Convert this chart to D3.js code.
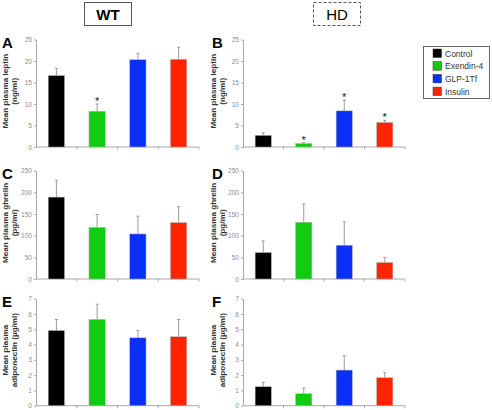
<!DOCTYPE html>
<html><head><meta charset="utf-8">
<script src="https://cdn.jsdelivr.net/npm/d3@7"></script>
<style>body{margin:0;background:#fff}svg{display:block}</style>
</head><body>
<script>
const categories = ["Control", "Exendin-4", "GLP-1Tf", "Insulin"];
const colors = ["#000000", "#11cc11", "#0a30f5", "#ff2400"];

const leptinWT = [16.6, 8.3, 20.3, 20.4];
const leptinWTErr = [1.7, 1.7, 1.5, 2.8];
const leptinWTSig = [false, true, false, false];
const leptinHD = [2.7, 0.8, 8.4, 5.7];
const leptinHDErr = [0.6, 0.2, 2.5, 0.5];
const leptinHDSig = [false, true, true, true];
const leptinTicks = [0, 5, 10, 15, 20, 25];

const ghrelinWT = [189, 119, 104, 130];
const ghrelinWTErr = [39, 30, 41, 37];
const ghrelinHD = [61, 131, 78, 38];
const ghrelinHDErr = [27, 42, 54, 12];
const ghrelinTicks = [0, 50, 100, 150, 200, 250];

const adipoWT = [4.92, 5.64, 4.44, 4.51];
const adipoWTErr = [0.72, 1.0, 0.48, 1.13];
const adipoHD = [1.24, 0.78, 2.33, 1.83];
const adipoHDErr = [0.28, 0.37, 0.94, 0.35];
const adipoTicks = [0, 1, 2, 3, 4, 5, 6, 7];

const noSig = [false, false, false, false];
const panels = [
  {letter:"A", vals:leptinWT, err:leptinWTErr, sig:leptinWTSig, ticks:leptinTicks, label:["Mean plasma leptin","(ng/ml)"], col:0, row:0},
  {letter:"B", vals:leptinHD, err:leptinHDErr, sig:leptinHDSig, ticks:leptinTicks, label:["Mean plasma leptin","(ng/ml)"], col:1, row:0},
  {letter:"C", vals:ghrelinWT, err:ghrelinWTErr, sig:noSig, ticks:ghrelinTicks, label:["Mean plasma ghrelin","(pg/ml)"], col:0, row:1},
  {letter:"D", vals:ghrelinHD, err:ghrelinHDErr, sig:noSig, ticks:ghrelinTicks, label:["Mean plasma ghrelin","(pg/ml)"], col:1, row:1},
  {letter:"E", vals:adipoWT, err:adipoWTErr, sig:noSig, ticks:adipoTicks, label:["Mean plasma","adiponectin (\u00b5g/ml)"], col:0, row:2},
  {letter:"F", vals:adipoHD, err:adipoHDErr, sig:noSig, ticks:adipoTicks, label:["Mean plasma","adiponectin (\u00b5g/ml)"], col:1, row:2}
];

const W = 492, H = 410;
const svg = d3.select("body").append("svg").attr("width", W).attr("height", H)
  .style("font-family", "Liberation Sans, Arial, sans-serif");

const colX = [[36, 199], [243, 405]];
const rowY = [[147, 39.5], [279, 170.7], [405.7, 298.7]];
const axisColor = "#a8a8a8";

panels.forEach(p => {
  const [x0, x1] = colX[p.col];
  const [y0, y1] = rowY[p.row];
  const x = d3.scaleBand().domain(categories).range([x0, x1]).paddingInner(0.6).paddingOuter(0.3);
  const y = d3.scaleLinear().domain([0, d3.max(p.ticks)]).range([y0, y1]);
  const g = svg.append("g");

  // y axis
  const ya = g.append("g").attr("transform", `translate(${x0},0)`)
    .call(d3.axisLeft(y).tickValues(p.ticks).tickFormat(d3.format("d")).tickSize(2).tickPadding(2).tickSizeOuter(0));
  ya.select(".domain").attr("stroke", axisColor);
  ya.selectAll(".tick line").attr("stroke", axisColor);
  ya.selectAll(".tick text").attr("fill", "#8c8c8c").style("font-size", "6.6px");

  // x axis
  const bounds = categories.map((c, i) => x0 + (i + 1) * (x1 - x0) / categories.length);
  g.append("line").attr("x1", x0).attr("x2", x1).attr("y1", y0).attr("y2", y0).attr("stroke", axisColor);
  g.selectAll(".xt").data(bounds).join("line").attr("x1", d => d).attr("x2", d => d)
    .attr("y1", y0).attr("y2", y0 + 2.5).attr("stroke", axisColor);

  // error bars
  const eb = g.selectAll(".eb").data(categories).join("g");
  eb.append("line")
    .attr("x1", c => x(c) + x.bandwidth() / 2).attr("x2", c => x(c) + x.bandwidth() / 2)
    .attr("y1", (c, i) => y(p.vals[i])).attr("y2", (c, i) => y(p.vals[i] + p.err[i]))
    .attr("stroke", "#9a9a9a").attr("stroke-width", 1);
  eb.append("line")
    .attr("x1", c => x(c) + x.bandwidth() / 2 - 1.5).attr("x2", c => x(c) + x.bandwidth() / 2 + 1.5)
    .attr("y1", (c, i) => y(p.vals[i] + p.err[i])).attr("y2", (c, i) => y(p.vals[i] + p.err[i]))
    .attr("stroke", "#9a9a9a").attr("stroke-width", 1);

  // bars
  g.selectAll(".bar").data(categories).join("rect")
    .attr("x", c => x(c)).attr("width", x.bandwidth())
    .attr("y", (c, i) => y(p.vals[i])).attr("height", (c, i) => y0 - y(p.vals[i]))
    .attr("fill", (c, i) => colors[i]).attr("stroke", "#b0b0b0").attr("stroke-width", 0.5);

  // significance stars
  g.selectAll(".star").data(categories.filter((c, i) => p.sig[i])).join("text")
    .attr("x", c => x(c) + x.bandwidth() / 2)
    .attr("y", c => { const i = categories.indexOf(c); return y(p.vals[i] + p.err[i]) + 1; })
    .attr("text-anchor", "middle").style("font-size", "11px").attr("fill", "#111").text("*");

  // panel letter
  const lx = p.col === 0 ? 2 : 212;
  g.append("text").attr("x", lx).attr("y", y1 + 8).style("font-size", "15px").style("font-weight", "bold")
    .attr("fill", "#000").text(p.letter);

  // y label
  const cx = p.col === 0 ? 5 : 213;
  const cy = (y0 + y1) / 2 - 2;
  const yl = g.append("text").attr("transform", `translate(${cx},${cy}) rotate(-90)`)
    .attr("text-anchor", "middle").style("font-size", "8.1px").style("font-weight", "bold").attr("fill", "#333");
  yl.append("tspan").attr("x", 0).attr("dy", "0.35em").text(p.label[0]);
  yl.append("tspan").attr("x", 0).attr("dy", "1.1em").text(p.label[1]);
});

// WT / HD headers
svg.append("rect").attr("x", 84.5).attr("y", 2.5).attr("width", 47).attr("height", 23)
  .attr("fill", "none").attr("stroke", "#555").attr("stroke-width", 1);
svg.append("text").attr("x", 108).attr("y", 20).attr("text-anchor", "middle")
  .style("font-size", "15px").style("font-weight", "bold").text("WT");
svg.append("rect").attr("x", 313.5).attr("y", 2.5).attr("width", 47).attr("height", 23)
  .attr("fill", "none").attr("stroke", "#555").attr("stroke-width", 1).attr("stroke-dasharray", "3,2");
svg.append("text").attr("x", 337).attr("y", 20).attr("text-anchor", "middle")
  .style("font-size", "15px").text("HD");

// legend
const lg = svg.append("g");
lg.append("rect").attr("x", 423.5).attr("y", 46.5).attr("width", 66).attr("height", 52)
  .attr("fill", "#fff").attr("stroke", "#666");
const li = lg.selectAll(".li").data(categories).join("g")
  .attr("transform", (d, i) => `translate(433,${49 + i * 12.7})`);
li.append("rect").attr("width", 8.5).attr("height", 8.5).attr("fill", (d, i) => colors[i]).attr("stroke", "#333").attr("stroke-width", 0.5);
li.append("text").attr("x", 12).attr("y", 7.5).style("font-size", "8.5px").attr("fill", "#333").text(d => d);
</script>
</body></html>
